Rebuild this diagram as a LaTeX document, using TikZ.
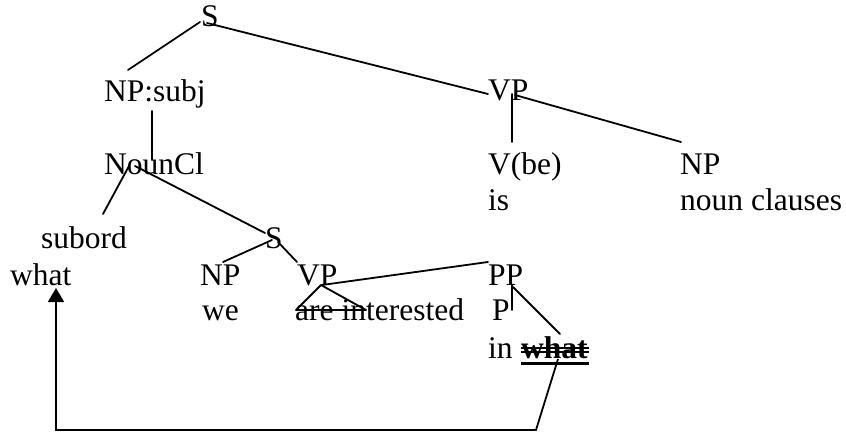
\documentclass[tikz,border=0pt]{standalone}
\usepackage{fontspec}
\setmainfont{Liberation Serif}
\usetikzlibrary{arrows.meta}
\begin{document}
\begin{tikzpicture}[x=1pt,y=-1pt,
  lbl/.style={anchor=base west,inner sep=0pt,font=\fontsize{31.5}{36}\selectfont},
  edge/.style={line width=1.8pt,line cap=round},
  strikeline/.style={line width=1.2pt}]
\useasboundingbox (0,0) rectangle (846,433);
% labels
\node[lbl] (s1) at (201,27) {S};
\node[lbl] (npsubj) at (104,102) {NP:subj};
\node[lbl] (vp1) at (488,101) {VP};
\node[lbl] (nouncl) at (104,175) {NounCl};
\node[lbl] (vbe) at (488,175) {V(be)};
\node[lbl] (is) at (488,210) {is};
\node[lbl] (np1) at (680,175) {NP};
\node[lbl] (nounclauses) at (680,210) {noun clauses};
\node[lbl] (subord) at (41,248) {subord};
\node[lbl] (what1) at (10,285) {what};
\node[lbl] (s2) at (265,248) {S};
\node[lbl] (np2) at (200,285) {NP};
\node[lbl] (we) at (202,320) {we};
\node[lbl] (vp2) at (297,285) {VP};
\node[lbl] (areint) at (295,320) {are interested};
\node[lbl] (pp) at (488,285) {PP};
\node[lbl] (p) at (492,320) {P};
\node[lbl] (in) at (488,358) {in};
\node[lbl,font=\fontsize{31.5}{36}\selectfont\bfseries] (what2) at (521,358) {what};
% connector end points
\coordinate (s1a) at (200,22);   \coordinate (npsubjt) at (128,70);
\coordinate (s1b) at (207,23);   \coordinate (vp1l) at (488,94);
\coordinate (npsubjb) at (152,111); \coordinate (nounclt) at (152,160);
\coordinate (vp1b) at (512,94);  \coordinate (vbet) at (512,142);
\coordinate (vp1c) at (515,95);  \coordinate (np1t) at (681,142);
\coordinate (nouncla) at (129,166); \coordinate (subordt) at (103,214);
\coordinate (nounclb) at (135,166); \coordinate (s2t) at (265,233);
\coordinate (s2a) at (272,240);  \coordinate (np2t) at (223,262);
\coordinate (s2b) at (278,242);  \coordinate (vp2t) at (297,262);
\coordinate (vp2a) at (321,285); \coordinate (tril) at (296,310); \coordinate (trir) at (366,310);
\coordinate (vp2b) at (322,285); \coordinate (ppl) at (488,262);
\coordinate (ppb) at (512,285);  \coordinate (pt) at (512,310);
\coordinate (ppc) at (513,287);  \coordinate (what2t) at (560,334);
\coordinate (what2b) at (558,359); \coordinate (c1) at (536,430); \coordinate (c2) at (56,430);
\coordinate (what1b) at (56,288);
% tree edges
\draw[edge] (s1a) -- (npsubjt);
\draw[edge] (s1b) -- (vp1l);
\draw[edge] (npsubjb) -- (nounclt);
\draw[edge] (vp1b) -- (vbet);
\draw[edge] (vp1c) -- (np1t);
\draw[edge] (nouncla) -- (subordt);
\draw[edge] (nounclb) -- (s2t);
\draw[edge] (s2a) -- (np2t);
\draw[edge] (s2b) -- (vp2t);
\draw[edge,line join=round] (vp2a) -- (tril) -- (trir) -- cycle;
\draw[edge] (vp2b) -- (ppl);
\draw[edge] (ppb) -- (pt);
\draw[edge] (ppc) -- (what2t);
% movement arrow
\draw[edge,line cap=butt,-{Triangle[width=16pt,length=14pt]}] (what2b) -- (c1) -- (c2) -- (what1b);
% double strike-through and underline on bold "what"
\draw[strikeline] (what2.base west) ++(0,-10) -- ++(68,0);
\draw[strikeline] (what2.base west) ++(0,-6) -- ++(68,0);
\draw[line width=3pt] (what2.base west) ++(0,5) -- ++(68,0);
\end{tikzpicture}
\end{document}
